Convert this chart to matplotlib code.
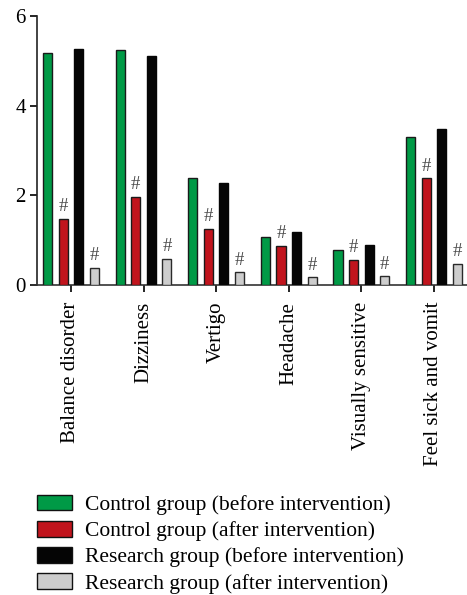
import matplotlib
matplotlib.use("Agg")
import matplotlib.pyplot as plt
import numpy as np
from matplotlib.patches import Patch

categories = ["Balance disorder", "Dizziness", "Vertigo", "Headache",
              "Visually sensitive", "Feel sick and vomit"]
series_names = ["Control group (before intervention)",
                "Control group (after intervention)",
                "Research group (before intervention)",
                "Research group (after intervention)"]
control_before = [5.18, 5.24, 2.38, 1.08, 0.77, 3.29]
control_after = [1.48, 1.97, 1.26, 0.87, 0.56, 2.38]
research_before = [5.27, 5.10, 2.27, 1.18, 0.90, 3.48]
research_after = [0.39, 0.59, 0.28, 0.17, 0.19, 0.47]
significant = [False, True, False, True]   # '#' marks above the after-intervention bars
y_ticks = [0, 2, 4, 6]

colors = ["#009a46", "#c1141d", "#050505", "#cdcdcd"]
edges = ["#1a1a1a", "#1a1a1a", "#050505", "#2a2a2a"]

plt.rcParams["font.family"] = ["Liberation Serif", "DejaVu Serif"]

fig = plt.figure(figsize=(4.67, 5.95), dpi=100)
ax = fig.add_axes([32 / 467, 1 - 285 / 595, (467 - 32) / 467, (285 - 16) / 595])

x = np.arange(len(categories))
offsets = [-0.322, -0.107, 0.107, 0.322]
width = 0.125
all_series = [control_before, control_after, research_before, research_after]
for vals, off, col, ec, sig in zip(all_series, offsets, colors, edges, significant):
    ax.bar(x + off, vals, width=width, color=col, edgecolor=ec, linewidth=1.0, zorder=3)
    if sig:
        for xi, v in zip(x, vals):
            ax.text(xi + off, v + 0.08, "#", ha="center", va="bottom",
                    fontsize=13.5, color="#4a4a4a")

ax.set_xlim(-0.537, 5.455)
ax.set_ylim(0, 6)
ax.set_yticks(y_ticks)
ax.set_xticks(x)
ax.set_xticklabels(categories, rotation=90, fontsize=15)
ax.tick_params(axis="y", labelsize=15, length=5, width=1.2, pad=3, direction="out")
ax.tick_params(axis="x", length=5, width=1.2, pad=7, direction="out")

for s in ["top", "right"]:
    ax.spines[s].set_visible(False)
ax.spines["left"].set_position(("data", -0.468))
ax.spines["left"].set_linewidth(1.2)
ax.spines["bottom"].set_linewidth(1.2)
ax.spines["left"].set_color("#222222")
ax.spines["bottom"].set_color("#333333")

handles = [Patch(facecolor=c, edgecolor="#111111", linewidth=1.0) for c in colors]
fig.legend(handles, series_names, loc="upper left", bbox_to_anchor=(28 / 467, 1 - 486 / 595),
           frameon=False, fontsize=15.5, handlelength=1.65, handleheight=0.75,
           labelspacing=0.27, handletextpad=0.6, borderaxespad=0)

fig.savefig("out.png", dpi=100)
